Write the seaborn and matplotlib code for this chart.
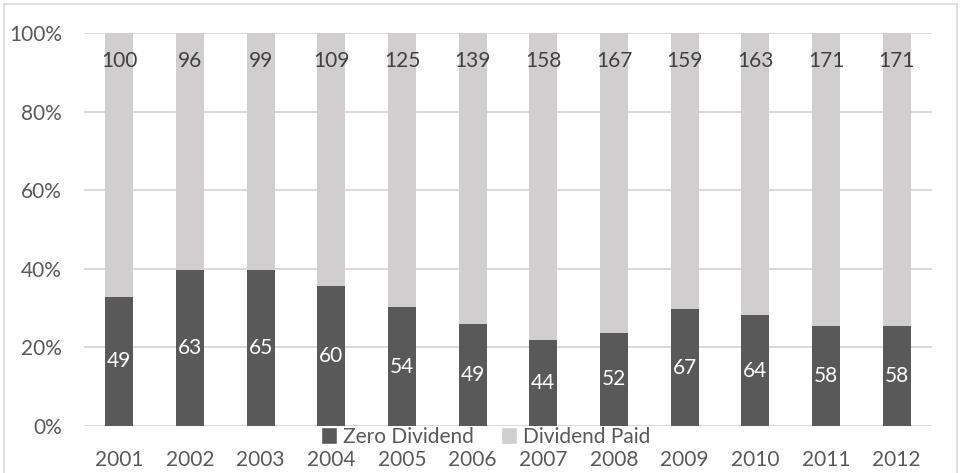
import numpy as np
import pandas as pd
import matplotlib
matplotlib.use("Agg")
import matplotlib.pyplot as plt
import seaborn as sns
from matplotlib.patches import Patch

# chart data
years = ["2001", "2002", "2003", "2004", "2005", "2006",
         "2007", "2008", "2009", "2010", "2011", "2012"]
zero_dividend = [49, 63, 65, 60, 54, 49, 44, 52, 67, 64, 58, 58]
dividend_paid = [100, 96, 99, 109, 125, 139, 158, 167, 159, 163, 171, 171]

df = pd.DataFrame({"Year": years, "Zero": zero_dividend, "Paid": dividend_paid})
df["Total"] = df["Zero"] + df["Paid"]
df["ZeroPct"] = df["Zero"] / df["Total"] * 100
df["TotalPct"] = 100.0

dark = "#595959"
light = "#d0cece"
grid = "#d9d9d9"
txt = "#595959"

sns.set_theme(style="white")
plt.rcParams["font.family"] = ["Lato", "DejaVu Sans"]

fig = plt.figure(figsize=(9.6, 4.73), dpi=100)
ax = fig.add_axes([84 / 960, 47 / 473, 848 / 960, 393 / 473])

# full stack (paid on top) then zero share over it
sns.barplot(data=df, x="Year", y="TotalPct", color=light, saturation=1,
            width=0.4, linewidth=0, ax=ax, zorder=2)
sns.barplot(data=df, x="Year", y="ZeroPct", color=dark, saturation=1,
            width=0.4, linewidth=0, ax=ax, zorder=3)

for i, row in df.iterrows():
    ax.text(i, row["ZeroPct"] / 2, str(row["Zero"]), ha="center", va="center",
            color="white", fontsize=15, zorder=4)
    ax.annotate(str(row["Paid"]), xy=(i, 100), xytext=(0, -20),
                textcoords="offset points", ha="center", va="center",
                color="#404040", fontsize=15, zorder=4)

ax.set_ylim(0, 100)
ax.set_xlim(-0.5, len(years) - 0.5)
ax.set_yticks(np.arange(0, 101, 20))
ax.set_yticklabels([f"{v}%" for v in range(0, 101, 20)])
ax.yaxis.grid(True, color=grid, linewidth=1.4, zorder=0)
ax.set_axisbelow(True)
for s in ["top", "right", "left", "bottom"]:
    ax.spines[s].set_visible(False)
ax.axhline(0, color=grid, linewidth=1.4, zorder=1)
ax.tick_params(axis="both", length=0, labelsize=15, labelcolor=txt)
ax.tick_params(axis="x", pad=17)
ax.tick_params(axis="y", pad=16)
ax.set_xlabel("")
ax.set_ylabel("")

handles = [Patch(facecolor=dark, label="Zero Dividend"),
           Patch(facecolor=light, label="Dividend Paid")]
fig.legend(handles=handles, loc="center", bbox_to_anchor=(486 / 960, 1 - 437 / 473),
           ncol=2, frameon=False, fontsize=15, labelcolor=txt,
           handlelength=0.75, handleheight=0.85, handletextpad=0.3,
           columnspacing=1.3, borderpad=0, borderaxespad=0)

# light border around the chart area
fig.patches.append(plt.Rectangle((4 / 960, -0.01), 953 / 960, 0.9995 - 4 / 473 + 0.01,
                                 transform=fig.transFigure, fill=False,
                                 edgecolor=grid, linewidth=1.2))

fig.savefig("out.png", dpi=100)
